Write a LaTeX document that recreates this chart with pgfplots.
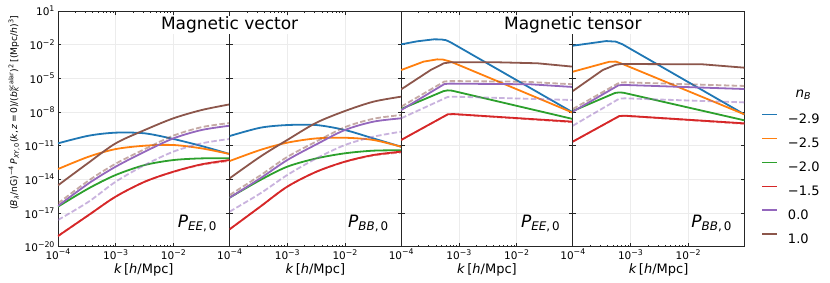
\documentclass[border=0pt]{standalone}
\usepackage{fontspec}
\setmainfont{DejaVu Sans}
\usepackage{pgfplots}
\pgfplotsset{compat=1.18}
\usepgfplotslibrary{groupplots}
\usetikzlibrary{calc}
\definecolor{cB}{HTML}{1F77B4}
\definecolor{cO}{HTML}{FF7F0E}
\definecolor{cG}{HTML}{2CA02C}
\definecolor{cR}{HTML}{D62728}
\definecolor{cP}{HTML}{9467BD}
\definecolor{cN}{HTML}{8C564B}
\newcommand{\sps}[1]{\raisebox{0.42em}{\fontsize{7.8}{9}\selectfont #1}}
\pgfplotsset{
  sB/.style={cB, line width=1.8pt, line join=round},
  sO/.style={cO, line width=1.8pt, line join=round},
  sG/.style={cG, line width=1.8pt, line join=round},
  sR/.style={cR, line width=1.8pt, line join=round},
  sP/.style={cP, line width=1.8pt, line join=round},
  sN/.style={cN, line width=1.8pt, line join=round},
  dsh/.style={line width=1.8pt, opacity=0.5, dash pattern=on 5.5pt off 2.4pt, line join=round},
}
\begin{document}
\begin{tikzpicture}
\begin{groupplot}[
  group style={group size=4 by 1, horizontal sep=0pt, y descriptions at=edge left},
  scale only axis, width=171.6pt, height=235.7pt,
  xmode=log, ymode=log, xmin=1e-4, xmax=9.44e-2, ymin=1e-20, ymax=10,
  xtick={1e-4,1e-3,1e-2},
  xticklabels={10\sps{−4},10\sps{−3},10\sps{−2}},
  ytick={1e1,1e-2,1e-5,1e-8,1e-11,1e-14,1e-17,1e-20},
  yticklabels={10\sps{1},10\sps{−2},10\sps{−5},10\sps{−8},10\sps{−11},10\sps{−14},10\sps{−17},10\sps{−20}},
  yminorticks=false,
  grid=major, major grid style={gray!15, line width=0.6pt},
  tick label style={font=\fontsize{10.5}{12}\selectfont},
  xticklabel style={yshift=1pt},
  xlabel={\textit{k}\,[\textit{h}/Mpc]},
  xlabel style={font=\fontsize{13}{15}\selectfont, at={(rel axis cs:0.5,0)}, anchor=center, yshift=-23pt},
  axis line style={black!85, line width=0.8pt},
  tick style={black!85, line width=0.6pt},
  major tick length=3.5pt, minor tick length=2pt,
  clip=true,
]
% ---------------- Panel 1: vector EE
\nextgroupplot
\addplot[sB, smooth] coordinates {(1e-4,1.62e-11)(3.4e-4,7.76e-11)(1e-3,1.45e-10)(3.2e-3,1.26e-10)(1e-2,3.98e-11)(3.1e-2,9.3e-12)(9.44e-2,1.82e-12)};
\addplot[sO, smooth] coordinates {(1e-4,8.3e-14)(3.4e-4,1.05e-12)(1e-3,5.0e-12)(3.2e-3,1.0e-11)(1e-2,1.15e-11)(3.1e-2,5.75e-12)(9.44e-2,1.82e-12)};
\addplot[sG, smooth] coordinates {(1e-4,3.7e-17)(3.4e-4,1.58e-15)(1e-3,2.45e-14)(3.2e-3,1.9e-13)(1e-2,5.25e-13)(3.1e-2,7.4e-13)(9.44e-2,7.4e-13)};
\addplot[cR, dsh, smooth] coordinates {(1e-4,8.9e-20)(3.4e-4,6.6e-18)(1e-3,2.9e-16)(3.2e-3,6.2e-15)(1e-2,4.6e-14)(3.1e-2,2.0e-13)(9.44e-2,4.4e-13)};
\addplot[sR, smooth] coordinates {(1e-4,8.9e-20)(3.4e-4,6.6e-18)(1e-3,2.9e-16)(3.2e-3,6.2e-15)(1e-2,4.8e-14)(3.1e-2,2.2e-13)(9.44e-2,5.25e-13)};
\addplot[cP, dsh, smooth] coordinates {(1e-4,2.4e-18)(3.4e-4,1.02e-16)(1e-3,6.17e-15)(3.2e-3,1.9e-13)(1e-2,2.95e-12)(3.1e-2,1.62e-11)(9.44e-2,3.98e-11)};
\addplot[sP, smooth] coordinates {(1e-4,4.27e-17)(3.4e-4,4.37e-15)(1e-3,1.35e-13)(3.2e-3,2.95e-12)(1e-2,4.47e-11)(3.1e-2,2.51e-10)(9.44e-2,6.03e-10)};
\addplot[cN, dsh, smooth] coordinates {(1e-4,7.24e-17)(3.4e-4,7.9e-15)(1e-3,2.5e-13)(3.2e-3,5.0e-12)(1e-2,7.9e-11)(3.1e-2,4.5e-10)(9.44e-2,1.05e-9)};
\addplot[sN, smooth] coordinates {(1e-4,2.95e-15)(3.4e-4,3.09e-13)(1e-3,1.62e-11)(3.2e-3,2.51e-10)(1e-2,2.75e-9)(3.1e-2,1.51e-8)(9.44e-2,4.79e-8)};
\node[anchor=base east, font=\fontsize{17}{20}\selectfont] at (rel axis cs:1,0) [xshift=-9pt, yshift=19pt] {\textit{P}\textsubscript{\textit{EE},\,0}};
% ---------------- Panel 2: vector BB
\nextgroupplot
\addplot[sB, smooth] coordinates {(1e-4,7.24e-11)(3.4e-4,3.98e-10)(1e-3,6.9e-10)(3.2e-3,6.9e-10)(1e-2,2.5e-10)(3.1e-2,4.47e-11)(9.44e-2,8.1e-12)};
\addplot[sO, smooth] coordinates {(1e-4,4.27e-13)(3.4e-4,4.17e-12)(1e-3,1.86e-11)(3.2e-3,4.47e-11)(1e-2,5.1e-11)(3.1e-2,3.24e-11)(9.44e-2,8.1e-12)};
\addplot[sG, smooth] coordinates {(1e-4,2.34e-16)(3.4e-4,8.7e-15)(1e-3,1.35e-13)(3.2e-3,7.4e-13)(1e-2,2.1e-12)(3.1e-2,3.6e-12)(9.44e-2,3.9e-12)};
\addplot[cR, dsh, smooth] coordinates {(1e-4,3.55e-19)(3.4e-4,3.7e-17)(1e-3,2.24e-15)(3.2e-3,4.8e-14)(1e-2,3.6e-13)(3.1e-2,1.35e-12)(9.44e-2,2.5e-12)};
\addplot[sR, smooth] coordinates {(1e-4,3.55e-19)(3.4e-4,3.7e-17)(1e-3,2.24e-15)(3.2e-3,4.8e-14)(1e-2,3.8e-13)(3.1e-2,1.48e-12)(9.44e-2,2.95e-12)};
\addplot[cP, dsh, smooth] coordinates {(1e-4,1.32e-17)(3.4e-4,5.6e-16)(1e-3,2.45e-14)(3.2e-3,7.4e-13)(1e-2,1.15e-11)(3.1e-2,6.3e-11)(9.44e-2,1.78e-10)};
\addplot[sP, smooth] coordinates {(1e-4,2.34e-16)(3.4e-4,1.23e-14)(1e-3,5.25e-13)(3.2e-3,1.32e-11)(1e-2,2.51e-10)(3.1e-2,1.38e-9)(9.44e-2,2.75e-9)};
\addplot[cN, dsh, smooth] coordinates {(1e-4,4.0e-16)(3.4e-4,2.24e-14)(1e-3,1.0e-12)(3.2e-3,2.4e-11)(1e-2,4.47e-10)(3.1e-2,2.5e-9)(9.44e-2,5.4e-9)};
\addplot[sN, smooth] coordinates {(1e-4,1.23e-14)(3.4e-4,1.05e-12)(1e-3,3.24e-11)(3.2e-3,1.12e-9)(1e-2,1.23e-8)(3.1e-2,8.3e-8)(9.44e-2,2.34e-7)};
\node[anchor=base east, font=\fontsize{17}{20}\selectfont] at (rel axis cs:1,0) [xshift=-9pt, yshift=19pt] {\textit{P}\textsubscript{\textit{BB},\,0}};
% ---------------- Panel 3: tensor EE
\nextgroupplot
\addplot[sB] coordinates {(1e-4,1.07e-2)(1.9e-4,2.0e-2)(3.7e-4,3.0e-2)(5.0e-4,2.9e-2)(6.0e-4,2.5e-2)(7.2e-4,1.62e-2)(9.44e-2,9.3e-9)};
\addplot[sO] coordinates {(1e-4,5.5e-5)(2.45e-4,3.1e-4)(4.2e-4,4.9e-4)(5.3e-4,4.7e-4)(7.2e-4,3.1e-4)(9.44e-2,8.7e-9)};
\addplot[sG] coordinates {(1e-4,1.86e-8)(5.4e-4,7.2e-7)(6.4e-4,8.5e-7)(7.6e-4,8.0e-7)(9.44e-2,2.4e-9)};
\addplot[cR, dsh] coordinates {(1e-4,3.24e-11)(6.4e-4,6.0e-9)(8.0e-4,6.4e-9)(9.44e-2,1.25e-9)};
\addplot[sR] coordinates {(1e-4,3.24e-11)(6.4e-4,6.2e-9)(8.0e-4,6.6e-9)(9.44e-2,1.38e-9)};
\addplot[cP, dsh] coordinates {(1e-4,2.75e-9)(6.4e-4,2.2e-7)(8.0e-4,2.34e-7)(9.44e-2,1.17e-7)};
\addplot[sP] coordinates {(1e-4,1.5e-8)(5.6e-4,3.1e-6)(7.0e-4,3.4e-6)(1.74e-2,2.95e-6)(9.44e-2,1.7e-6)};
\addplot[cN, dsh] coordinates {(1e-4,3.0e-8)(5.6e-4,5.2e-6)(7.0e-4,5.75e-6)(1.4e-2,5.0e-6)(9.44e-2,2.95e-6)};
\addplot[sN] coordinates {(1e-4,1.05e-6)(3.24e-4,5.5e-5)(5.5e-4,2.2e-4)(7.2e-4,2.7e-4)(4.6e-3,2.7e-4)(2.3e-2,2.2e-4)(9.44e-2,1.1e-4)};
\node[anchor=base east, font=\fontsize{17}{20}\selectfont] at (rel axis cs:1,0) [xshift=-9pt, yshift=19pt] {\textit{P}\textsubscript{\textit{EE},\,0}};
% ---------------- Panel 4: tensor BB
\nextgroupplot[
  legend style={at={(1,0.289)}, anchor=west, xshift=14pt, draw=none, fill=none,
    font=\fontsize{13}{15}\selectfont, nodes={inner sep=0pt, text height=9.4pt, text depth=0pt},
    row sep=14pt, column sep=10pt},
  legend cell align=left,
  legend image code/.code={\draw[#1, line width=1.4pt, opacity=1] (0pt,4.5pt) -- (15pt,4.5pt);},
]
\addplot[sB] coordinates {(1e-4,8.1e-3)(3.8e-4,2.1e-2)(5.6e-4,1.86e-2)(7.3e-4,1.07e-2)(9.44e-2,6.2e-9)};
\addlegendentry{−2.9}
\addplot[sO] coordinates {(1e-4,3.9e-5)(4.3e-4,3.0e-4)(5.6e-4,3.1e-4)(7.3e-4,1.9e-4)(9.44e-2,6.2e-9)};
\addlegendentry{−2.5}
\addplot[sG] coordinates {(1e-4,1.23e-8)(5.4e-4,5.0e-7)(6.4e-4,5.6e-7)(7.6e-4,5.2e-7)(9.44e-2,1.82e-9)};
\addlegendentry{−2.0}
\addplot[sR] coordinates {(1e-4,2.3e-11)(6.4e-4,4.4e-9)(8.0e-4,4.7e-9)(9.44e-2,9.8e-10)};
\addlegendentry{−1.5}
\addplot[sP] coordinates {(1e-4,1.07e-8)(6.2e-4,2.4e-6)(7.6e-4,2.6e-6)(9.44e-2,1.12e-6)};
\addlegendentry{0.0}
\addplot[sN] coordinates {(1e-4,7.4e-7)(3.3e-4,5.5e-5)(5.5e-4,1.6e-4)(6.9e-4,1.9e-4)(1.78e-2,1.78e-4)(9.44e-2,8.9e-5)};
\addlegendentry{1.0}
\addplot[cR, dsh, forget plot] coordinates {(1e-4,2.3e-11)(6.4e-4,4.2e-9)(8.0e-4,4.5e-9)(9.44e-2,8.8e-10)};
\addplot[cP, dsh, forget plot] coordinates {(1e-4,6.0e-10)(6.4e-4,1.55e-7)(8.0e-4,1.66e-7)(9.44e-2,7.2e-8)};
\addplot[cN, dsh, forget plot] coordinates {(1e-4,1.86e-8)(6.4e-4,4.1e-6)(8.0e-4,4.4e-6)(9.44e-2,2.1e-6)};
\node[anchor=base east, font=\fontsize{17}{20}\selectfont] at (rel axis cs:1,0) [xshift=-9pt, yshift=19pt] {\textit{P}\textsubscript{\textit{BB},\,0}};
\end{groupplot}
% titles
\node[fill=white, inner sep=1pt, font=\fontsize{17}{20}\selectfont] at ($(group c1r1.north east)+(0,-14pt)$) {Magnetic vector};
\node[fill=white, inner sep=1pt, font=\fontsize{17}{20}\selectfont] at ($(group c3r1.north east)+(0,-14pt)$) {Magnetic tensor};
% legend title
\node[font=\fontsize{13.5}{15}\selectfont] at ($(group c4r1.south east)+(59pt,151.7pt)$) {\textit{n}\textsubscript{\textit{B}}};
% y label
\node[rotate=90, font=\fontsize{9.2}{11}\selectfont] at ($(group c1r1.south west)+(-44pt,134pt)$) {(\textit{B}\textsubscript{\textit{λ}}/nG)\textsuperscript{−4}\,\textit{P}\textsubscript{\textit{XY},\,0}(\textit{k},\,\textit{z}\,=\,0)/(\textit{b}\rlap{\textsubscript{\textit{K}}}\textsuperscript{scalar})\textsuperscript{2}\,[(Mpc/\textit{h})\textsuperscript{3}]};
\pgfresetboundingbox
\path[use as bounding box] ($(group c1r1.south west)+(-58pt,-35.3pt)$) rectangle ($(group c1r1.south west)+(772pt,246.7pt)$);
\end{tikzpicture}
\end{document}
